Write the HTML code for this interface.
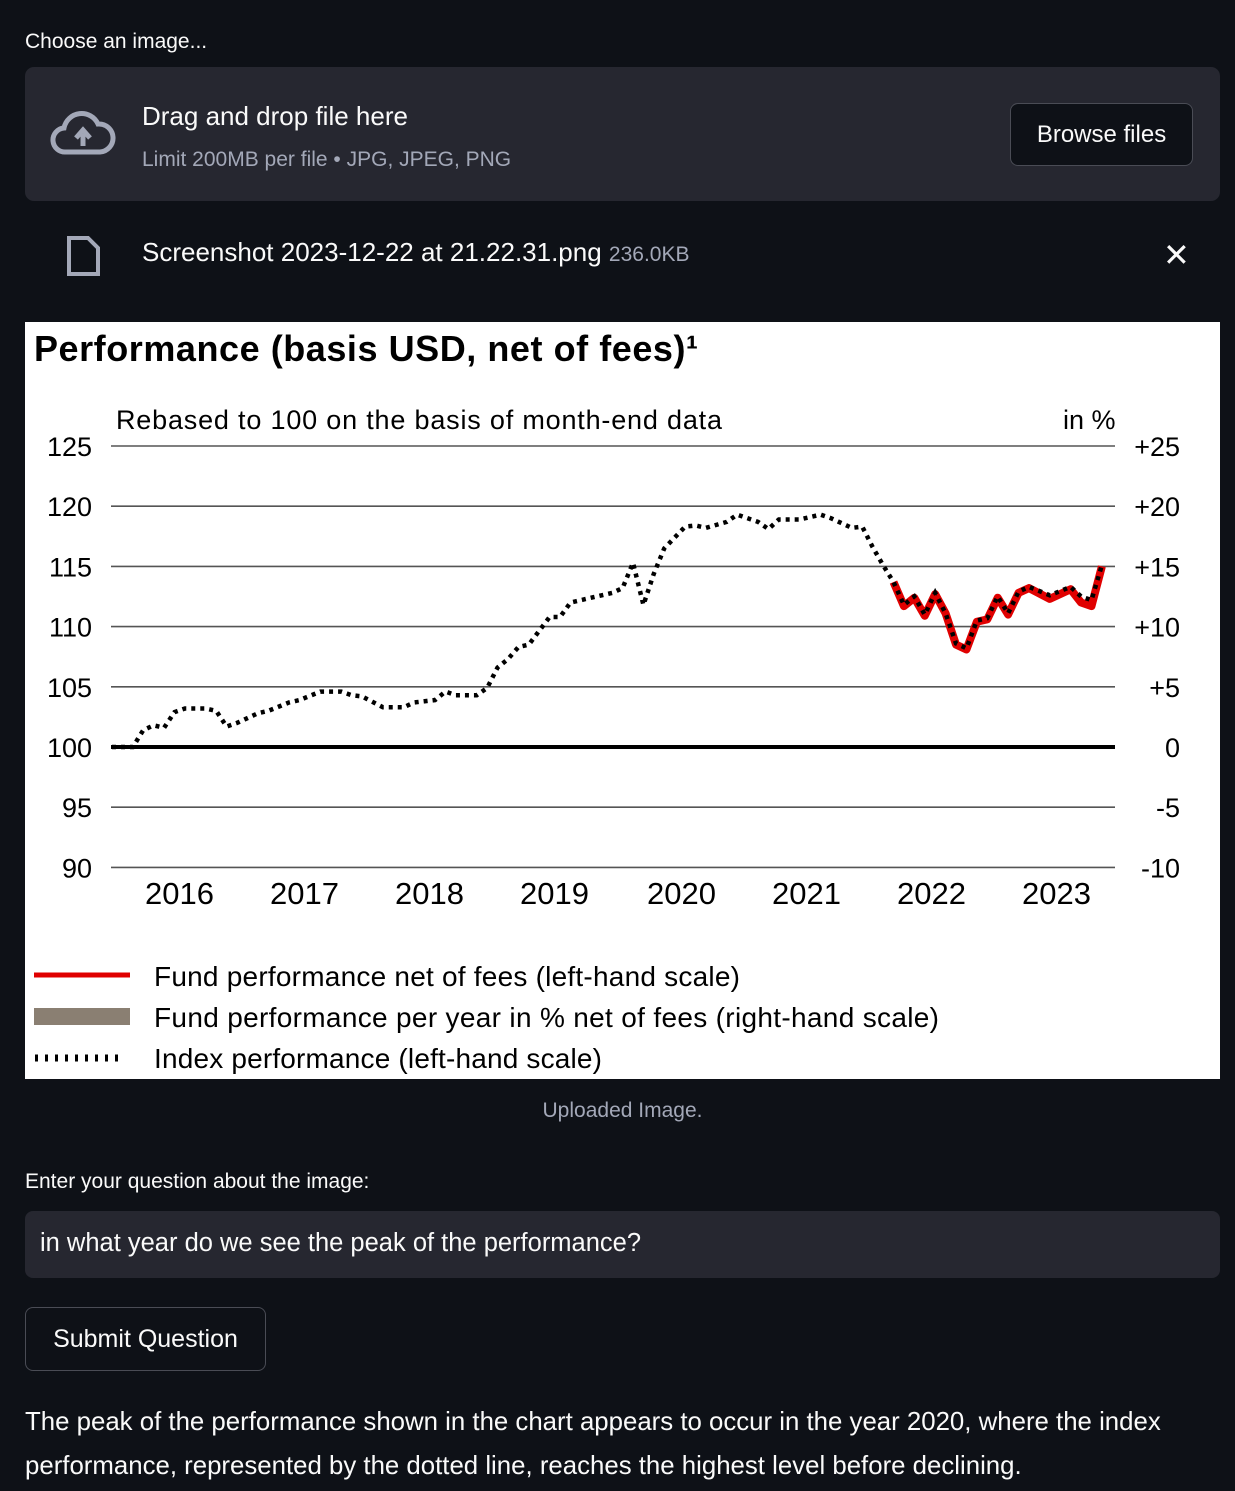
<!DOCTYPE html>
<html><head><meta charset="utf-8"><style>
body{margin:0;width:1235px;height:1491px;background:#0e1117;color:#fafafa;font-family:"Liberation Sans",sans-serif;position:relative;overflow:hidden}
.a{position:absolute;white-space:nowrap}
</style></head><body>
<div class="a" style="left:25px;top:30px;font-size:21px">Choose an image...</div>
<div class="a" style="left:25px;top:67px;width:1195px;height:134px;background:#262730;border-radius:9px"></div>
<svg class="a" style="left:50px;top:110px" width="66" height="48" viewBox="0 0 66 48"><path d="M16 42 A12 12 0 0 1 14 18 A18 18 0 0 1 48 14 A13 13 0 0 1 50 42 Z" fill="none" stroke="#a3a8b8" stroke-width="5"/><path d="M33 36 V24 M26 28 L33 20 L40 28" stroke="#a3a8b8" stroke-width="5" fill="none"/></svg>
<div class="a" style="left:142px;top:101px;font-size:26px">Drag and drop file here</div>
<div class="a" style="left:142px;top:148px;font-size:21px;color:#a3a8b8">Limit 200MB per file • JPG, JPEG, PNG</div>
<div class="a" style="left:1010px;top:103px;width:181px;height:61px;border:1px solid #4a4c55;border-radius:8px;background:#0e1117;font-size:24px;line-height:61px;text-align:center">Browse files</div>
<svg class="a" style="left:66px;top:235px" width="36" height="42"><path d="M3 3 H22 L32 13 V39 H3 Z" fill="none" stroke="#a3a8b8" stroke-width="4"/></svg>
<div class="a" style="left:142px;top:237px;font-size:26px">Screenshot 2023-12-22 at 21.22.31.png <span style="font-size:21px;color:#a3a8b8">236.0KB</span></div>
<div class="a" style="left:1163px;top:236px;font-size:32px">✕</div>

<div class="a" style="left:25px;top:322px;width:1195px;height:757px;background:#fff">
<svg id="ch" width="1195" height="757" style="font-family:'Liberation Sans',sans-serif"></svg></div>

<div class="a" style="left:0;width:1245px;top:1099px;text-align:center;font-size:21px;color:#a3a8b8">Uploaded Image.</div>
<div class="a" style="left:25px;top:1170px;font-size:21px">Enter your question about the image:</div>
<div class="a" style="left:25px;top:1211px;width:1195px;height:67px;background:#262730;border-radius:8px;"><div class="a" style="left:15px;top:18px;font-size:25.5px">in what year do we see the peak of the performance?</div></div>
<div class="a" style="left:25px;top:1307px;width:239px;height:62px;border:1px solid #4a4c55;border-radius:8px;font-size:25px;line-height:62px;text-align:center">Submit Question</div>
<div class="a" style="left:25px;top:1400px;font-size:25.8px;line-height:44px;white-space:normal;width:1200px">The peak of the performance shown in the chart appears to occur in the year 2020, where the index performance, represented by the dotted line, reaches the highest level before declining.</div>

<script>
const indexMonths=[0,1,2,3,4,5,6,7,9,10,11,12,14,15,17,18,20,22,23,24,26,28,29,31,32,33,35,36,37,38,39,40,42,43,44,45,47,48,49,50,51,52,53,55,56,57,59,60,62,63,64,66,68,69,71,72,73,74,75,76,77,78,79,80,81,82,83,84,85,86,87,88,90,92,93,94,95];
const indexValues=[100,100,100,101.4,101.8,101.6,102.9,103.2,103.2,103,101.7,102,102.8,103,103.7,103.9,104.6,104.6,104.3,104.2,103.3,103.3,103.7,103.9,104.6,104.3,104.3,104.9,106.6,107.3,108.3,108.5,110.8,110.8,112,112.2,112.6,112.8,113.2,115.3,111.8,114.4,116.5,118.3,118.4,118.2,118.7,119.3,118.7,118.1,118.9,118.9,119.3,119,118.2,118.3,116.6,115.1,113.7,111.8,112.5,111,112.8,111.1,108.6,108.2,110.5,110.7,112.5,111.1,112.9,113.3,112.6,113.3,112.5,112.2,115.1];
const fundMonths=[75,76,77,78,79,80,81,82,83,84,85,86,87,88,90,92,93,94,95];
const fundValues=[113.7,111.7,112.4,110.9,112.7,111.1,108.5,108.1,110.4,110.6,112.4,111.0,112.8,113.2,112.3,113.1,112.0,111.7,115.0];
const leftTicks=[125,120,115,110,105,100,95,90];
const rightTicks=["+25","+20","+15","+10","+5","0","-5","-10"];
const yearLabels=["2016","2017","2018","2019","2020","2021","2022","2023"];
const yearPos=[0.5,1.5,2.5,3.5,4.5,5.5,6.5,7.5];

const NS="http://www.w3.org/2000/svg";
const svg=document.getElementById('ch');
const g=document.createElementNS(NS,'g');g.setAttribute('transform','translate(-25,-322)');svg.appendChild(g);
const yS=v=>747-(v-100)*12.04;
const xS=m=>112+m*10.42;
const yrX=y=>117+y*125;
function mk(t,a,txt){const e=document.createElementNS(NS,t);for(const k in a)e.setAttribute(k,a[k]);if(txt!==undefined)e.textContent=txt;g.appendChild(e);return e;}
let e;
e=mk('text',{x:34,y:361,'font-size':36,'font-weight':'bold',fill:'#000',textLength:664},'Performance (basis USD, net of fees)¹');


e=mk('text',{x:116,y:429,'font-size':27,fill:'#000',textLength:606},'Rebased to 100 on the basis of month-end data');


e=mk('text',{x:1063,y:429,'font-size':27,fill:'#000'},'in %');


leftTicks.forEach((v,i)=>{
 const y=yS(v);
 e=mk('line',{x1:111,x2:1115,y1:y,y2:y,stroke:v===100?'#000':'#555','stroke-width':v===100?4:1.6});
 
 
 e=mk('text',{x:92,y:y+10,'font-size':27,fill:'#000','text-anchor':'end'},String(v));
 
 
 e=mk('text',{x:1180,y:y+10,'font-size':27,fill:'#000','text-anchor':'end'},rightTicks[i]);
 
 
});
yearLabels.forEach((t,i)=>{
 e=mk('text',{x:yrX(yearPos[i])+(i>=4?2:0),y:904,'font-size':31,fill:'#000','text-anchor':'middle'},t);
 
 
});
e=mk('polyline',{points:fundMonths.map((m,i)=>xS(m)+','+yS(fundValues[i])).join(' '),fill:'none',stroke:'#e00000','stroke-width':8,'stroke-linejoin':'round'});


e=mk('polyline',{points:indexMonths.map((m,i)=>xS(m)+','+yS(indexValues[i])).join(' '),fill:'none',stroke:'#000','stroke-width':4.5,'stroke-dasharray':'4 5'});


e=mk('line',{x1:34,x2:130,y1:975,y2:975,stroke:'#e00000','stroke-width':5});


e=mk('rect',{x:34,y:1008,width:96,height:17,fill:'#8a7f72'});


e=mk('line',{x1:35,x2:125,y1:1058,y2:1058,stroke:'#000','stroke-width':7,'stroke-dasharray':'3 7'});


[['Fund performance net of fees (left-hand scale)',986,586],['Fund performance per year in % net of fees (right-hand scale)',1027,785],['Index performance (left-hand scale)',1068,448]].forEach(l=>{
 e=mk('text',{x:154,y:l[1],'font-size':28,fill:'#000',textLength:l[2]},l[0]);
 
 
});
</script>
</body></html>
